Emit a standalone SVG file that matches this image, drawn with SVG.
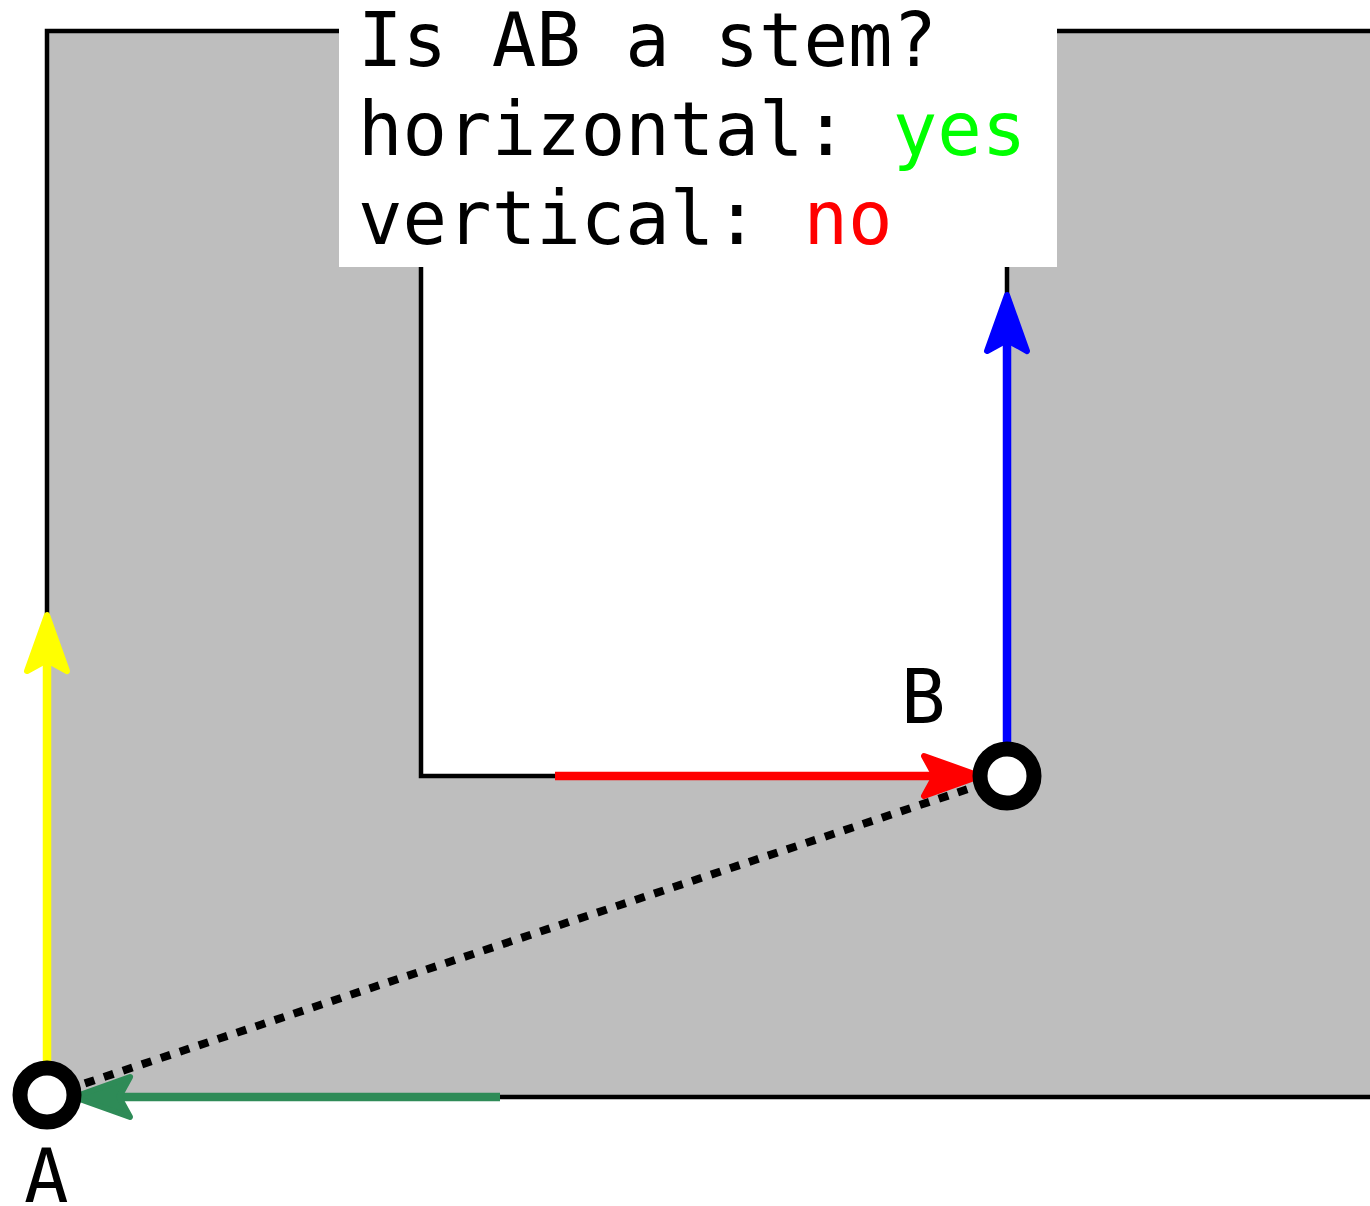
<svg xmlns="http://www.w3.org/2000/svg" width="1370" height="1206" viewBox="0 0 1370 1206">
  <style>
    .outline { fill: none; stroke: #000; stroke-width: 4.5; stroke-linejoin: miter; }
    .shaft { fill: none; stroke-width: 8.5; }
    .head { stroke-width: 6; stroke-linejoin: round; }
    .pt { fill: #fff; stroke: #000; stroke-width: 15; }
    .txt { font-family: "DejaVu Sans Mono", "Liberation Mono", monospace; font-size: 74px; fill: #000; }
  </style>
  <defs>
    <path id="head" d="M0,0 L-56,-20 L-45,0 L-56,20 Z"/>
  </defs>
  <rect width="1370" height="1206" fill="#fff"/>
  <g id="shape">
    <path d="M47,31 H421 V776 H1007 V31 H1372 V1097 H47 Z" fill="#bebebe"/>
    <path class="outline" d="M1372,31 H1007 V776 H421 V31 H47 V1097 H1372"/>
  </g>
  <g id="connectors">
    <line x1="47" y1="1096" x2="1007" y2="776" stroke="#000" stroke-width="8" stroke-dasharray="10,10"/>
    <g id="yellow-arrow">
      <line class="shaft" x1="47" y1="1070" x2="47" y2="655" stroke="#ffff00"/>
      <use href="#head" class="head" fill="#ffff00" stroke="#ffff00" transform="translate(47,615) rotate(-90)"/>
    </g>
    <g id="blue-arrow">
      <line class="shaft" x1="1007" y1="750" x2="1007" y2="335" stroke="#0000ff"/>
      <use href="#head" class="head" fill="#0000ff" stroke="#0000ff" transform="translate(1007,295) rotate(-90)"/>
    </g>
    <g id="red-arrow">
      <line class="shaft" x1="555" y1="776" x2="940" y2="776" stroke="#ff0000"/>
      <use href="#head" class="head" fill="#ff0000" stroke="#ff0000" transform="translate(980,776)"/>
    </g>
    <g id="green-arrow">
      <line class="shaft" x1="500" y1="1097" x2="110" y2="1097" stroke="#2e8b57"/>
      <use href="#head" class="head" fill="#2e8b57" stroke="#2e8b57" transform="translate(74,1097) rotate(180)"/>
    </g>
  </g>
  <g id="node-A">
    <circle class="pt" cx="47" cy="1095" r="27"/>
    <text class="txt" x="24" y="1202">A</text>
  </g>
  <g id="node-B">
    <circle class="pt" cx="1007" cy="776" r="27"/>
    <text class="txt" x="901" y="723">B</text>
  </g>
  <g id="label">
    <rect x="339" y="0" width="718" height="267" fill="#fff"/>
    <text class="txt" x="358" y="66">Is AB a stem?</text>
    <text class="txt" x="358" y="155">horizontal: <tspan fill="#00ff00">yes</tspan></text>
    <text class="txt" x="358" y="244">vertical: <tspan fill="#ff0000">no</tspan></text>
  </g>
</svg>
